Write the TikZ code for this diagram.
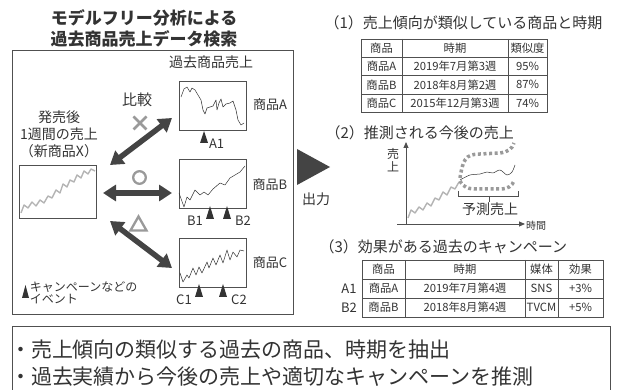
\documentclass[tikz,border=0pt]{standalone}
\usepackage{fontspec}
\setmainfont{Noto Sans CJK JP}
\usetikzlibrary{arrows.meta}
\definecolor{ink}{HTML}{333333}
\definecolor{frame}{HTML}{505050}
\definecolor{sym}{HTML}{9A9A9A}
\definecolor{arr}{HTML}{444444}
\definecolor{hist}{HTML}{B4B4B4}
\begin{document}
\begin{tikzpicture}[x=1pt,y=-1pt,
  every node/.style={inner sep=0pt,outer sep=0pt,text=ink},
  ttl/.style={font=\fontsize{17}{20}\selectfont\bfseries},
  f21/.style={font=\fontsize{21}{25}\selectfont},
  f15/.style={font=\fontsize{15}{18}\selectfont},
  f14/.style={font=\fontsize{14}{17}\selectfont},
  f13/.style={font=\fontsize{13}{15}\selectfont},
  f12/.style={font=\fontsize{12}{12}\selectfont},
  f11/.style={font=\fontsize{11.3}{12}\selectfont},
  f10/.style={font=\fontsize{10}{12}\selectfont},
  outerbox/.style={draw=frame,line width=1pt},
  chartbox/.style={draw=frame,line width=0.8pt,minimum width=67pt,minimum height=49pt},
  chartline/.style={draw=ink,line width=0.5pt,line join=round},
  histline/.style={draw=hist,line width=1.4pt,line join=round},
  bigarrow/.style={draw=arr,line width=5.5pt,{Triangle[length=13pt,width=16pt]}-{Triangle[length=13pt,width=16pt]}},
  evtri/.style={fill=ink},
  symline/.style={draw=sym,line width=2.5pt},
  tabline/.style={draw=frame,line width=0.8pt},
  dotline/.style={draw=sym,line width=3.5pt,dash pattern=on 3pt off 2.6pt},
  axis/.style={draw=frame,line width=0.9pt,-{Triangle[length=6pt,width=5pt]}}
]
\useasboundingbox (0,0) rectangle (627,390);

% ---------- title ----------
\node[ttl] (title1) at (144,18) {モデルフリー分析による};
\node[ttl] (title2) at (144,39) {過去商品売上データ検索};

% ---------- left frame ----------
\draw[outerbox] (12,51) rectangle (293,315);

\node[f14] (pastlbl) at (211,62) {過去商品売上};
\node[f15] (hikaku) at (137,100) {比較};
\node[f14,align=center] (newlbl) at (59,134) {発売後\\1週間の売上\\（新商品X）};

% new product chart
\node[draw=frame,line width=0.8pt,minimum width=77pt,minimum height=53pt] (nx) at (57.5,191.5) {};
\draw[histline] plot coordinates {(21,213) (24,205) (28,208) (32,202) (36,206) (40,200) (44,203) (48,196) (52,198) (56,190) (60,193) (63,184) (67,187) (70,180) (74,182) (77,175) (81,178) (84,171) (88,174) (91,169) (95,171)};

% past charts
\node[chartbox] (chA) at (212.5,105.5) {};
\node[chartbox] (chB) at (212.5,183.5) {};
\node[chartbox] (chC) at (212.5,262.5) {};
\draw[chartline] plot coordinates {(181,97) (184,89) (187,87) (190,92) (192,88) (195,90) (198,95) (201,100) (203,110) (205,114) (207,108) (210,107) (213,106) (216,100) (217,110) (219,103) (221,99) (223,107) (226,104) (230,103) (233,101) (236,110) (238,120) (241,125) (244,123)};
\draw[chartline] plot coordinates {(179,193) (184,207) (187,197) (190,200) (195,190) (200,195) (204,192) (208,195) (213,189) (220,183) (225,185) (230,178) (235,175) (240,172) (245,166)};
\draw[chartline] plot coordinates {(180,273) (183,282) (187,275) (189,278) (193,268) (196,275) (199,267) (202,273) (207,262) (209,268) (213,258) (216,265) (220,255) (223,263) (227,250) (230,260) (233,252) (237,257) (240,250) (244,251)};

\node[f13] (lblA) at (270,105) {商品A};
\node[f13] (lblB) at (270,185) {商品B};
\node[f13] (lblC) at (270,263) {商品C};

% event markers
\fill[evtri] (204,131) -- ++(4,12) -- ++(-8,0) -- cycle;
\fill[evtri] (210,206) -- ++(4,13) -- ++(-8,0) -- cycle;
\fill[evtri] (227,206) -- ++(4,13) -- ++(-8,0) -- cycle;
\fill[evtri] (199,284) -- ++(4,13) -- ++(-8,0) -- cycle;
\fill[evtri] (223,284) -- ++(4,13) -- ++(-8,0) -- cycle;
\node[f13,anchor=west] (evA1) at (209,144) {A1};
\node[f13] (evB1) at (195,221) {B1};
\node[f13] (evB2) at (243,221) {B2};
\node[f13] (evC1) at (184,300) {C1};
\node[f13] (evC2) at (239,300) {C2};

% legend
\fill[evtri] (25.5,285) -- ++(3.5,13) -- ++(-7,0) -- cycle;
\node[f12,anchor=west] (leg1) at (30,287) {キャンペーンなどの};
\node[f12,anchor=west] (leg2) at (30,299) {イベント};

% comparison arrows
\coordinate (a1s) at (110,165); \coordinate (a1e) at (172,118);
\coordinate (a2s) at (103,193); \coordinate (a2e) at (172,193);
\coordinate (a3s) at (110,221); \coordinate (a3e) at (172,268);
\draw[bigarrow] (a1s) -- (a1e);
\draw[bigarrow] (a2s) -- (a2e);
\draw[bigarrow] (a3s) -- (a3e);

% symbols
\draw[symline] (133.5,116.5) -- (146.5,129.5) (146.5,116.5) -- (133.5,129.5);
\draw[symline,line width=2.3pt] (139.5,177.5) circle (6.3);
\draw[symline,line width=2.3pt,line join=miter] (138.5,216.5) -- (146.5,230.5) -- (130.5,230.5) -- cycle;

% ---------- output ----------
\fill[arr] (297,149) -- (330,167) -- (297,185) -- cycle;
\node[f14] (out) at (316,199) {出力};

% ---------- (1) table ----------
\node[f15,anchor=west] (h1) at (324.5,23) {（1）売上傾向が類似している商品と時期};
\draw[tabline] (361,39) rectangle (547,112);
\foreach \yy in {57,75.5,94} \draw[tabline] (361,\yy) -- (547,\yy);
\foreach \xx in {402,508} \draw[tabline] (\xx,39) -- (\xx,112);
\node[f11] (t1h1) at (381.5,48) {商品};
\node[f11] (t1h2) at (455,48) {時期};
\node[f11] (t1h3) at (527.5,48) {類似度};
\node[f11] (t1a1) at (381.5,66.25) {商品A};
\node[f11] (t1a2) at (455,66.25) {2019年7月第3週};
\node[f11] (t1a3) at (527.5,66.25) {95\%};
\node[f11] (t1b1) at (381.5,84.75) {商品B};
\node[f11] (t1b2) at (455,84.75) {2018年8月第2週};
\node[f11] (t1b3) at (527.5,84.75) {87\%};
\node[f11] (t1c1) at (381.5,103) {商品C};
\node[f11] (t1c2) at (455,103) {2015年12月第3週};
\node[f11] (t1c3) at (527.5,103) {74\%};

% ---------- (2) forecast ----------
\node[f15,anchor=west] (h2) at (325.5,133) {（2）推測される今後の売上};
\coordinate (yax0) at (406,225); \coordinate (yax1) at (406,142);
\coordinate (xax0) at (397,224); \coordinate (xax1) at (525,224);
\draw[axis] (yax0) -- (yax1);
\draw[axis] (xax0) -- (xax1);
\node[f12,align=center] (ylbl) at (393,160) {売\\[1pt]上};
\node[f10] (xlbl) at (536,226) {時間};
\draw[histline] plot coordinates {(408,218) (411,210) (415,213) (419,207) (423,210) (427,203) (431,206) (435,198) (439,200) (443,192) (447,195) (451,187) (455,189) (459,182)};
\draw[dotline] (460,178) .. controls (463,160) and (465,154) .. (480,154) -- (500,153) .. controls (508,152) and (512,149) .. (514,143);
\draw[dotline] (460,181) .. controls (464,188) and (468,189) .. (478,189) -- (500,189) .. controls (508,189) and (512,186) .. (514,181);
\draw[chartline] plot[smooth] coordinates {(460,180) (470,175) (480,174) (487,172) (493,173) (500,170) (507,175) (512,172) (515,165)};
\draw[draw=frame,line width=0.5pt] (458,191) -- (458,196) -- (518,196) -- (518,191) (489,196) -- (489,202);
\node[f14] (yosoku) at (490,209) {予測売上};

% ---------- (3) table ----------
\node[f15,anchor=west] (h3) at (319.5,247) {（3）効果がある過去のキャンペーン};
\draw[tabline] (362,260) rectangle (603,317);
\foreach \yy in {279,298} \draw[tabline] (362,\yy) -- (603,\yy);
\foreach \xx in {405,525,558} \draw[tabline] (\xx,260) -- (\xx,317);
\node[f11] (t3h1) at (383.5,269.5) {商品};
\node[f11] (t3h2) at (465,269.5) {時期};
\node[f11] (t3h3) at (541.5,269.5) {媒体};
\node[f11] (t3h4) at (580.5,269.5) {効果};
\node[f11] (t3a1) at (383.5,288.5) {商品A};
\node[f11] (t3a2) at (465,288.5) {2019年7月第4週};
\node[f11] (t3a3) at (541.5,288.5) {SNS};
\node[f11] (t3a4) at (580.5,288.5) {+3\%};
\node[f11] (t3b1) at (383.5,307.5) {商品B};
\node[f11] (t3b2) at (465,307.5) {2018年8月第4週};
\node[f11] (t3b3) at (541.5,307.5) {TVCM};
\node[f11] (t3b4) at (580.5,307.5) {+5\%};
\node[f13] (rA1) at (349,288.5) {A1};
\node[f13] (rB2) at (349,307.5) {B2};

% ---------- bottom box ----------
\draw[outerbox] (12,392) -- (12,327) -- (610,327) -- (610,392);
\node[f21,anchor=west] (sum1) at (10,350) {・売上傾向の類似する過去の商品、時期を抽出};
\node[f21,anchor=west] (sum2) at (10,377) {・過去実績から今後の売上や適切なキャンペーンを推測};
\end{tikzpicture}
\end{document}
